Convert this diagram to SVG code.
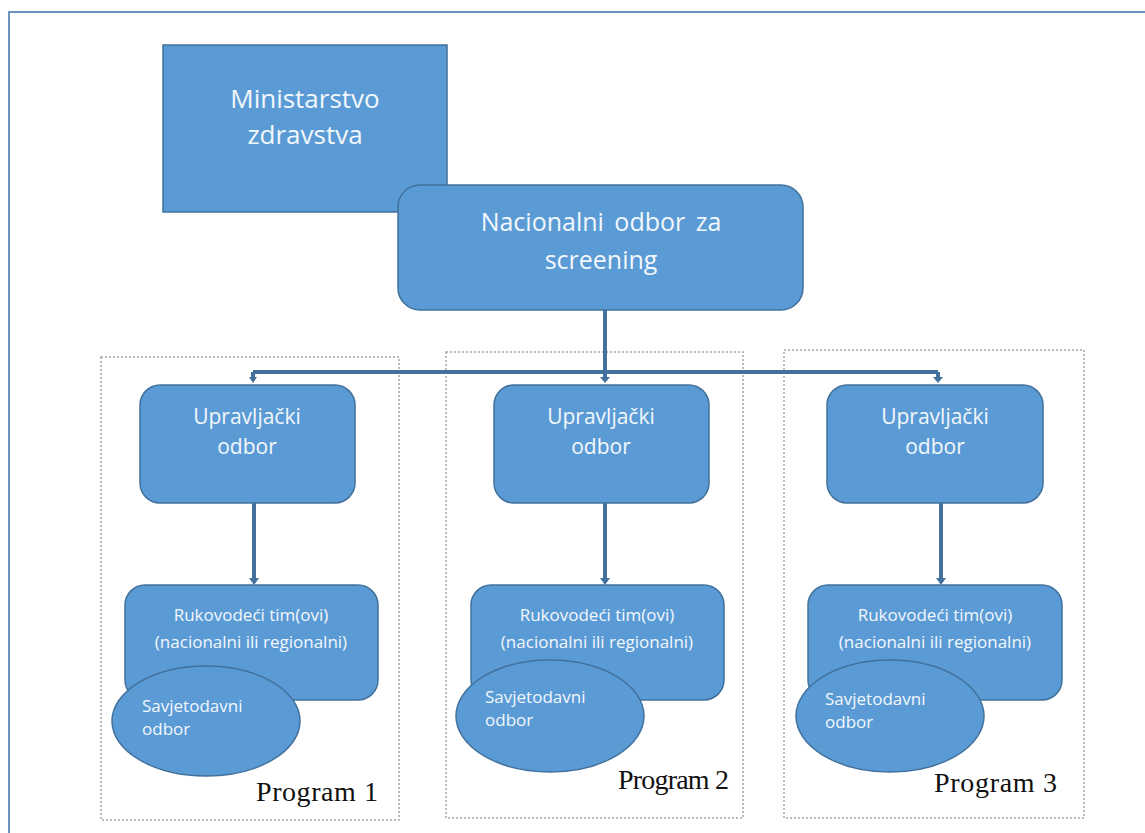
<svg xmlns="http://www.w3.org/2000/svg" width="1145" height="833" viewBox="0 0 1145 833">
<defs>
<style>
.box{fill:#5B9BD5;stroke:#41719C;stroke-width:1.5}
.prog{fill:none;stroke:#A6A6A6;stroke-width:1.5;stroke-dasharray:2 2}
.conn{stroke:#41719C;stroke-width:4;fill:none}
.t{font-family:"Open Sans","Noto Sans",sans-serif;fill:#F2F7FC;text-anchor:middle}
.tl{font-family:"Open Sans","Noto Sans",sans-serif;fill:#F2F7FC}
.p{font-family:"Liberation Serif","Times New Roman",serif;fill:#111;font-size:28px}
</style>
</defs>
<rect x="0" y="0" width="1145" height="833" fill="#fff"/>
<rect x="9" y="12" width="1150" height="840" fill="none" stroke="#6D93BF" stroke-width="2"/>

<g id="program1"><rect class="prog" x="101" y="357" width="298" height="463"/><text class="p" x="256" y="801" textLength="122">Program 1</text></g>
<g id="program2"><rect class="prog" x="446" y="352" width="297" height="466"/><text class="p" x="618" y="789" textLength="111">Program 2</text></g>
<g id="program3"><rect class="prog" x="784" y="350" width="300" height="468" stroke-width="4" stroke="#C4C4C4"/><text class="p" x="934" y="792" textLength="123" fill="#222">Program 3</text></g>

<g id="connectors">
<path class="conn" d="M605,310 V379"/>
<path class="conn" d="M253,372 H938"/>
<path class="conn" d="M253,372 V379"/>
<path class="conn" d="M938,372 V379"/>
<path class="conn" d="M254,503 V580"/>
<path class="conn" d="M605,503 V580"/>
<path class="conn" d="M941,503 V580"/>
<path d="M249,377 L253,383 L257,377 Z M600,377 L605,383 L610,377 Z M933,377 L938,383 L943,377 Z M249,578 L254,585 L259,578 Z M600,578 L605,585 L610,578 Z M936,578 L941,585 L946,578 Z" fill="#41719C"/>
</g>

<g id="ministarstvo"><rect class="box" x="163" y="45" width="284" height="167"/>
<text class="t" font-size="26" x="305" y="108">Ministarstvo</text><text class="t" font-size="26" x="305" y="144">zdravstva</text></g>

<g id="nacionalni"><rect class="box" x="398" y="185" width="405" height="125" rx="22"/>
<text class="t" font-size="25" x="601" y="231" word-spacing="4">Nacionalni odbor za</text><text class="t" font-size="25" x="601" y="269">screening</text></g>

<g id="upravljacki1"><rect class="box" x="140" y="385" width="215" height="118" rx="20"/>
<text class="t" font-size="21" x="247" y="424">Upravljački</text><text class="t" font-size="21" x="247" y="454">odbor</text></g>
<g id="upravljacki2"><rect class="box" x="494" y="385" width="215" height="118" rx="20"/>
<text class="t" font-size="21" x="601" y="424">Upravljački</text><text class="t" font-size="21" x="601" y="454">odbor</text></g>
<g id="upravljacki3"><rect class="box" x="827" y="385" width="216" height="118" rx="20"/>
<text class="t" font-size="21" x="935" y="424">Upravljački</text><text class="t" font-size="21" x="935" y="454">odbor</text></g>

<g id="rukovodeci1"><rect class="box" x="125" y="585" width="253" height="115" rx="20"/>
<text class="t" font-size="17" x="251" y="621">Rukovodeći tim(ovi)</text><text class="t" font-size="17" x="251" y="648">(nacionalni ili regionalni)</text></g>
<g id="rukovodeci2"><rect class="box" x="471" y="585" width="253" height="115" rx="20"/>
<text class="t" font-size="17" x="597" y="621">Rukovodeći tim(ovi)</text><text class="t" font-size="17" x="597" y="648">(nacionalni ili regionalni)</text></g>
<g id="rukovodeci3"><rect class="box" x="808" y="585" width="254" height="115" rx="20"/>
<text class="t" font-size="17" x="935" y="621">Rukovodeći tim(ovi)</text><text class="t" font-size="17" x="935" y="648">(nacionalni ili regionalni)</text></g>

<g id="savjetodavni1"><ellipse class="box" cx="206" cy="721" rx="94" ry="55"/>
<text class="tl" font-size="17" x="142" y="712">Savjetodavni</text><text class="tl" font-size="17" x="142" y="735">odbor</text></g>
<g id="savjetodavni2"><ellipse class="box" cx="550" cy="716" rx="94" ry="56"/>
<text class="tl" font-size="17" x="485" y="703">Savjetodavni</text><text class="tl" font-size="17" x="485" y="726">odbor</text></g>
<g id="savjetodavni3"><ellipse class="box" cx="890" cy="716" rx="94" ry="56"/>
<text class="tl" font-size="17" x="825" y="705">Savjetodavni</text><text class="tl" font-size="17" x="825" y="728">odbor</text></g>
</svg>
